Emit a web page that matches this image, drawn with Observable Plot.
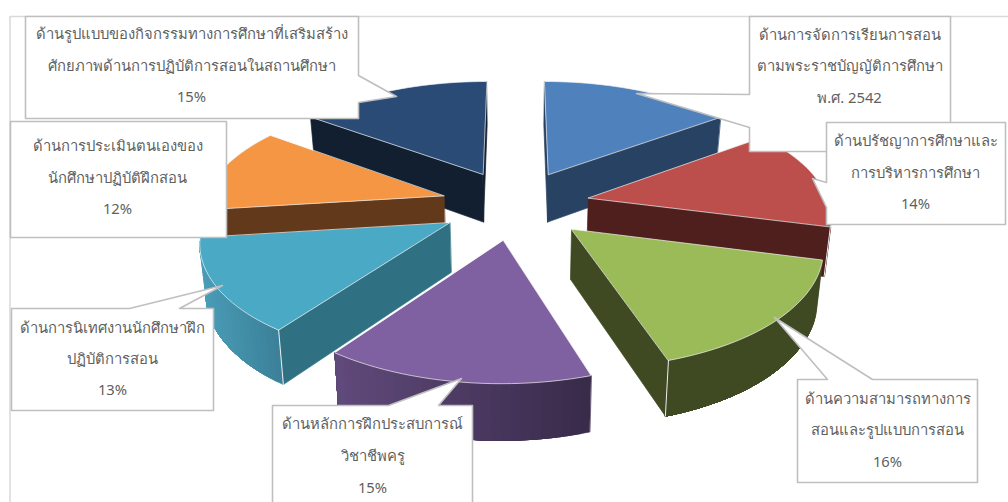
<!DOCTYPE html>
<html><head><meta charset="utf-8">
<script src="https://cdn.jsdelivr.net/npm/d3@7"></script>
<script src="https://cdn.jsdelivr.net/npm/@observablehq/plot@0.6"></script>
<style>html,body{margin:0;padding:0;background:#fff}svg{display:block}</style>
</head><body><div id="chart"></div>
<script>
// ---- data ----
const categories = ["การจัดการ","ปรัชญา","ความสามารถ","หลักการ","นิเทศ","ประเมิน","รูปแบบ"];
const shares = [15, 14, 16, 15, 13, 12, 15];
const labelLines = [
  ["ด้านการจัดการเรียนการสอน","ตามพระราชบัญญัติการศึกษา","พ.ศ. 2542"],
  ["ด้านปรัชญาการศึกษาและ","การบริหารการศึกษา","14%"],
  ["ด้านความสามารถทางการ","สอนและรูปแบบการสอน","16%"],
  ["ด้านหลักการฝึกประสบการณ์","วิชาชีพครู","15%"],
  ["ด้านการนิเทศงานนักศึกษาฝึก","ปฏิบัติการสอน","13%"],
  ["ด้านการประเมินตนเองของ","นักศึกษาปฏิบัติฝึกสอน","12%"],
  ["ด้านรูปแบบของกิจกรรมทางการศึกษาที่เสริมสร้าง","ศักยภาพด้านการปฏิบัติการสอนในสถานศึกษา","15%"]
];
// ---- styles ----
const topColors  = ["#4f81bd","#bc4e4b","#9bbb59","#7f60a0","#4aa9c4","#f49644","#2a4b75"];
const wallColors = ["#274262","#4f1f1e","#3f4a22","#4a3860","#2f7183","#63391c","#111f30"];
const arcFrom    = ["#274262","#4f1f1e","#3f4a22","#392b4a","#3c8199","#63391c","#111f30"];
const arcTo      = ["#274262","#4f1f1e","#3f4a22","#614a7c","#4a9db8","#63391c","#111f30"];
// ---- callout layout (page units) ----
const boxes = [
  {b:[749,16,950,151], tail:[[749,94],[636,93],[749,127]], side:"left",  cx:849, ly:[35,66,98]},
  {b:[826,122,1005,224], tail:[[826,182],[812,178],[826,207]], side:"left", cx:915, ly:[141,173,204]},
  {b:[797,379,977,482], tail:[[827,379],[774,317],[872,379]], side:"top", cx:887, ly:[399,430,462]},
  {b:[272,405,472,520], tail:[[388,405],[461,378],[438,405]], side:"top", cx:372, ly:[424,456,488]},
  {b:[11,308,213,410], tail:[[129,308],[222,285],[179,308]], side:"top", cx:112, ly:[328,359,390]},
  {b:[10,121,226,237], tail:[], side:"none", cx:117, ly:[146,178,209]},
  {b:[25,16,358,118], tail:[[358,75],[396,96],[358,102]], side:"right", cx:191, ly:[34,66,97]}
];
// ---- projection of the exploded pie ----
const CX=515, Y0=204, A=241, P=0.135, G=113, EXPLODE=0.31, DEPTH=49, SHRINK=0.98;
const rad = d => d*Math.PI/180;
const world = (deg,r,ox,oy) => [ox + r*Math.sin(rad(deg)), oy - r*Math.cos(rad(deg))];
function projTop([X,Y]){const s=1/(1-P*Y); return [CX+A*X*s, Y0+G*Y*s, s];}
function projBottom(p){return [CX+(p[0]-CX)*SHRINK, p[1]+DEPTH*Math.pow(p[2],0.75), p[2]];}

const total = d3.sum(shares);
let acc = 0;
const slices = shares.map((v,i)=>{
  const a0=acc/total*360; acc+=v; const a1=acc/total*360; const mid=(a0+a1)/2;
  const [ox,oy]=world(mid,EXPLODE,0,0);
  const arc=[]; const n=Math.ceil((a1-a0)/2);
  for(let k=0;k<=n;k++) arc.push(projTop(world(a0+(a1-a0)*k/n,1,ox,oy)));
  return {i,oy,apex:projTop([ox,oy]),arc};
});
const lerp = d3.interpolateRgb;
const polys=[]; const cornerRows=[];
let pid=0;
function addPoly(pts,fill,stroke){const id=pid++; pts.forEach(p=>polys.push({id,x:p[0],y:p[1],fill,stroke:stroke||fill}));}
[...slices].sort((a,b)=>a.oy-b.oy).forEach(s=>{
  const {i,apex,arc}=s;
  const wall=(a,b,c)=>{ if(b[0]<a[0]) addPoly([a,b,projBottom(b),projBottom(a)],c); };
  wall(apex,arc[0],wallColors[i]);
  wall(arc[arc.length-1],apex,wallColors[i]);
  // outer wall: visible run of the arc, painted as overlapping strips so no seams show
  const xs=arc.map(p=>p[0]); const x0=d3.min(xs), x1=d3.max(xs);
  const run=d3.range(arc.length-1).filter(k=>arc[k+1][0]<arc[k][0]);
  if(run.length){
    const last=run[run.length-1]+1;
    run.forEach(k=>{
      const t=1-((arc[k][0]-x0)/(x1-x0||1));
      const part=arc.slice(k,last+1);
      addPoly([...part,...part.map(projBottom).reverse()],lerp(arcFrom[i],arcTo[i])(t));
    });
  }
  [[apex,arc[0],arc[1]],[arc[arc.length-2],arc[arc.length-1],apex]].forEach(([p,q,r])=>{
    if(q[0]<p[0] && r[0]<q[0]){const id="c"+pid++; const bq=projBottom(q); cornerRows.push({id,x:q[0],y:q[1]},{id,x:bq[0],y:bq[1]});}
  });
  addPoly([apex,...arc],topColors[i],"#f4f4f4");
});
const outline = boxes.map((o,j)=>{
  const [l,t,r,b]=o.b; let pts;
  if(o.side==="left")  pts=[[l,t],[r,t],[r,b],[l,b],...[...o.tail].reverse()];
  else if(o.side==="right") pts=[[l,t],[r,t],...o.tail,[r,b],[l,b]];
  else if(o.side==="top") pts=[[l,t],...o.tail,[r,t],[r,b],[l,b]];
  else pts=[[l,t],[r,t],[r,b],[l,b]];
  return pts.map(p=>({id:j,x:p[0],y:p[1]}));
}).flat();
const textRows = boxes.flatMap((o,j)=>labelLines[j].map((t,k)=>({t,x:o.cx,y:o.ly[k]})));
const frameRows=[[9.5,16],[1020,16],[1020,520],[9.5,520]].map(p=>({x:p[0],y:p[1]}));

const chart = Plot.plot({
  width:1008,height:502,margin:0,
  x:{domain:[0,1008],range:[0,1008],axis:null},
  y:{domain:[0,502],range:[0,502],axis:null},
  color:{type:"identity"},
  style:{background:"#fff"},
  marks:[
    Plot.line(frameRows,{x:"x",y:"y",curve:"linear-closed",stroke:"#d9d9d9",strokeWidth:1.5,fill:"#fff"}),
    Plot.line(polys,{x:"x",y:"y",z:"id",curve:"linear-closed",fill:"fill",stroke:"stroke",strokeWidth:0.7}),
    Plot.line(cornerRows,{x:"x",y:"y",z:"id",stroke:"#eeeeee",strokeWidth:1}),
    Plot.line(outline,{x:"x",y:"y",z:"id",curve:"linear-closed",fill:"#fff",stroke:"#bfbfbf",strokeWidth:1.6}),
    Plot.text(textRows,{x:"x",y:"y",text:"t",fill:"#5f5f5f",fontSize:14.8,fontFamily:"'Noto Sans','Liberation Sans','DejaVu Sans',sans-serif",textAnchor:"middle",lineAnchor:"middle"})
  ]
});
document.getElementById("chart").appendChild(chart);
</script></body></html>
